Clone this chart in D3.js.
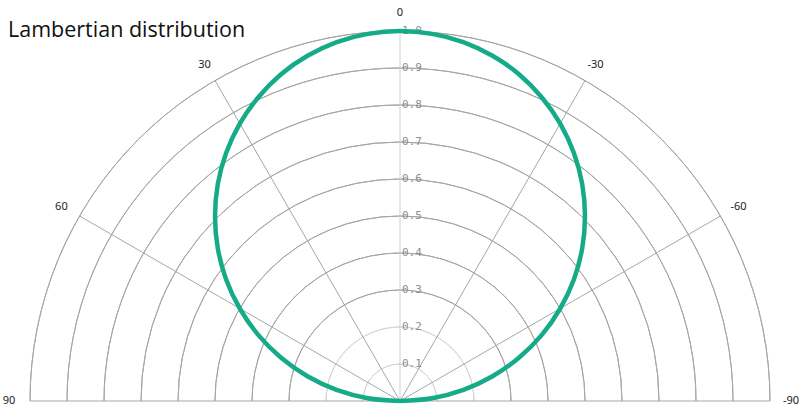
<!DOCTYPE html>
<html>
<head>
<meta charset="utf-8">
<script src="https://cdn.jsdelivr.net/npm/d3@7"></script>
<style>
  body { margin: 0; background: #fff; }
</style>
</head>
<body>
<div id="chart"></div>
<script>
let angles = [-90, -85, -80, -75, -70, -65, -60, -55, -50, -45, -40, -35, -30, -25, -20, -15, -10, -5, 0,
              5, 10, 15, 20, 25, 30, 35, 40, 45, 50, 55, 60, 65, 70, 75, 80, 85, 90];
let intensity = [0, 0.087, 0.174, 0.259, 0.342, 0.423, 0.5, 0.574, 0.643, 0.707, 0.766, 0.819, 0.866, 0.906, 0.94, 0.966, 0.985, 0.996, 1.0,
                 0.996, 0.985, 0.966, 0.94, 0.906, 0.866, 0.819, 0.766, 0.707, 0.643, 0.574, 0.5, 0.423, 0.342, 0.259, 0.174, 0.087, 0];
let rings = [0.1, 0.2, 0.3, 0.4, 0.5, 0.6, 0.7, 0.8, 0.9, 1.0];
let ringLabels = ['0.1', '0.2', '0.3', '0.4', '0.5', '0.6', '0.7', '0.8', '0.9', '1.0'];
let spokes = [90, 60, 30, 0, -30, -60, -90];
let spokeLabels = ['90', '60', '30', '0', '-30', '-60', '-90'];

let width = 800, height = 410;
let cx = 400, cy = 401;

let svg = d3.select('#chart')
    .append('svg')
    .attr('width', width)
    .attr('height', height);

let r = d3.scaleLinear().domain([0, 1]).range([0, 370]);
// positive angle goes to the left, 0 at the top (lineRadial runs clockwise)
let toRad = d => -d * Math.PI / 180;
let px = (d, rad) => -rad * Math.sin(d * Math.PI / 180);
let py = (d, rad) => -rad * Math.cos(d * Math.PI / 180);

let g = svg.append('g').attr('transform', `translate(${cx},${cy})`);

// rings (half circles)
let arc = d3.arc()
    .innerRadius(d => r(d))
    .outerRadius(d => r(d))
    .startAngle(-Math.PI / 2)
    .endAngle(Math.PI / 2);

g.selectAll('path.ring')
    .data(rings)
    .enter()
    .append('path')
    .attr('class', 'ring')
    .attr('d', arc)
    .attr('fill', 'none')
    .attr('stroke', d => d < 0.25 ? '#d6d6d6' : '#a6a6a6')
    .attr('stroke-width', 1);

// spokes
g.selectAll('line.spoke')
    .data(spokes)
    .enter()
    .append('line')
    .attr('class', 'spoke')
    .attr('x1', 0).attr('y1', 0)
    .attr('x2', d => px(d, r(1)))
    .attr('y2', d => py(d, r(1)))
    .attr('stroke', d => d === 0 ? '#cfcfcf' : '#a6a6a6')
    .attr('stroke-width', 1);

// angle labels
g.selectAll('text.ang')
    .data(spokes)
    .enter()
    .append('text')
    .attr('class', 'ang')
    .attr('x', d => px(d, 391))
    .attr('y', d => py(d, 388))
    .attr('text-anchor', 'middle')
    .attr('dominant-baseline', 'middle')
    .attr('font-family', 'Noto Sans, sans-serif')
    .attr('font-size', 11)
    .attr('fill', '#222')
    .text((d, i) => spokeLabels[i]);

// radial labels
g.selectAll('text.rad')
    .data(rings)
    .enter()
    .append('text')
    .attr('class', 'rad')
    .attr('x', 2)
    .attr('y', d => -r(d))
    .attr('dominant-baseline', 'middle')
    .attr('font-family', 'DejaVu Sans Mono, monospace')
    .attr('font-size', 11)
    .attr('fill', '#8c8c8c')
    .text((d, i) => ringLabels[i]);

// the curve
let line = d3.lineRadial()
    .angle(d => toRad(d[0]))
    .radius(d => r(d[1]))
    .curve(d3.curveCatmullRom);

g.append('path')
    .datum(d3.zip(angles, intensity))
    .attr('d', line)
    .attr('fill', 'none')
    .attr('stroke', '#15ab88')
    .attr('stroke-width', 4.5);

// title
svg.append('text')
    .attr('x', 8)
    .attr('y', 37)
    .attr('font-family', 'Open Sans, sans-serif')
    .attr('font-size', 21.5)
    .attr('fill', '#111')
    .text('Lambertian distribution');
</script>
</body>
</html>
